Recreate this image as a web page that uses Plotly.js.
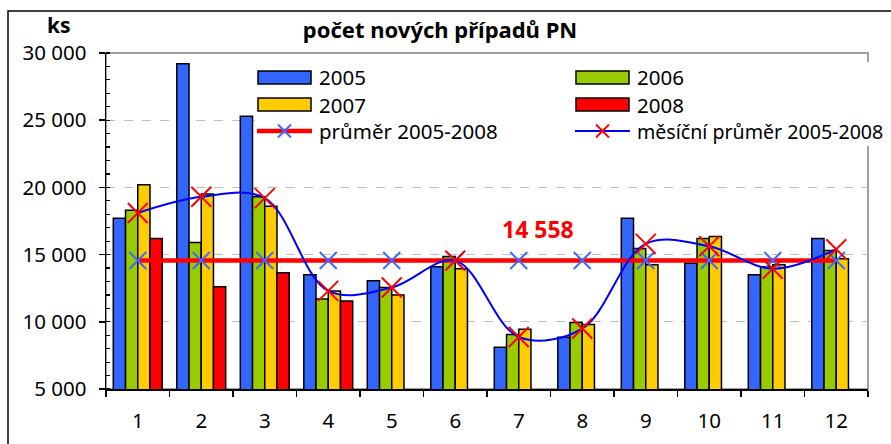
<!DOCTYPE html>
<html>
<head>
<meta charset="utf-8">
<script src="https://cdn.plot.ly/plotly-3.0.1.min.js"></script>
<style>
  html, body { margin: 0; padding: 0; background: #fff; }
  #chart { width: 891px; height: 444px; }
</style>
</head>
<body>
<div id="chart"></div>
<script>
// ---- data ----
const months = ['1', '2', '3', '4', '5', '6', '7', '8', '9', '10', '11', '12'];
const seriesNames = ['2005', '2006', '2007', '2008'];
const v2005 = [17700, 29200, 25300, 13500, 13050, 14100, 8100, 8850, 17700, 14350, 13500, 16200];
const v2006 = [18300, 15900, 19300, 11700, 12550, 14850, 9050, 9950, 15450, 16200, 14100, 15300];
const v2007 = [20200, 19500, 18600, 12300, 12000, 13950, 9450, 9800, 14250, 16350, 14250, 14700];
const v2008 = [16200, 12600, 13650, 11550, null, null, null, null, null, null, null, null];
const overallAvg = [14558, 14558, 14558, 14558, 14558, 14558, 14558, 14558, 14558, 14558, 14558, 14558];
const monthlyAvg = [18100, 19300, 19200, 12300, 12550, 14550, 8870, 9500, 15800, 15620, 13950, 15400];
const avgLabel = '14 558';
const avgName = 'průměr 2005-2008';
const monthlyName = 'měsíční průměr 2005-2008';
const chartTitle = 'počet nových případů PN';
const unitLabel = 'ks';

// ---- styling ----
const FONT = 'Noto Sans, DejaVu Sans, sans-serif';
const colors = ['#3366FF', '#99CC00', '#FFCC00', '#FF0000'];
const values = [v2005, v2006, v2007, v2008];

const traces = values.map((v, i) => ({
  type: 'bar', name: seriesNames[i], x: months, y: v,
  marker: { color: colors[i], line: { color: '#000', width: 1.5 } },
  hoverinfo: 'skip'
}));
traces.push({
  type: 'scatter', mode: 'lines+markers', name: avgName, x: months, y: overallAvg,
  line: { color: '#FF0000', width: 4.5 },
  marker: { symbol: 'x-thin', size: 17, line: { color: '#3D6BFF', width: 2 } },
  hoverinfo: 'skip'
});
traces.push({
  type: 'scatter', mode: 'lines+markers', name: monthlyName, x: months, y: monthlyAvg,
  line: { color: '#0000FF', width: 2, shape: 'spline', smoothing: 1 },
  marker: { symbol: 'x-thin', size: 20, line: { color: '#FF0000', width: 2 } },
  hoverinfo: 'skip'
});

// pixel -> paper helpers for decorations (legend, frame)
const ML = 106, MT = 53, PW = 762, PH = 336;
const px = x => (x - ML) / PW;
const py = y => (MT + PH - y) / PH;

const shapes = [
  // outer chart frame
  { type: 'rect', xref: 'paper', yref: 'paper', x0: px(8), x1: px(905), y0: py(470), y1: py(11),
    line: { color: '#000', width: 1.5 }, fillcolor: 'rgba(0,0,0,0)', layer: 'below' },
  // plot-area border
  { type: 'rect', xref: 'paper', yref: 'paper', x0: 0, x1: 1, y0: 0, y1: 1,
    line: { color: '#808080', width: 1.5 }, fillcolor: 'rgba(0,0,0,0)', layer: 'below' },
  // legend background
  { type: 'rect', xref: 'paper', yref: 'paper', x0: px(255), x1: px(884), y0: py(146), y1: py(62),
    line: { width: 0 }, fillcolor: '#FFFFFF', layer: 'above' }
];
const annotations = [];

function legendBar(x, y, color, label) {
  shapes.push({ type: 'rect', xref: 'paper', yref: 'paper', x0: px(x), x1: px(x + 53), y0: py(y + 6.5), y1: py(y - 6.5),
    line: { color: '#000', width: 1.5 }, fillcolor: color, layer: 'above' });
  annotations.push({ xref: 'paper', yref: 'paper', x: px(x + 59), y: py(y), xanchor: 'left', yanchor: 'middle',
    text: label, showarrow: false, font: { family: FONT, size: 20.5, color: '#000' } });
}
function legendLine(x, y, lineColor, lineW, markColor, markHalf, label, fs) {
  shapes.push({ type: 'line', xref: 'paper', yref: 'paper', x0: px(x), x1: px(x + 55), y0: py(y), y1: py(y),
    line: { color: lineColor, width: lineW }, layer: 'above' });
  const cx = x + 27.5;
  shapes.push({ type: 'line', xref: 'paper', yref: 'paper', x0: px(cx - markHalf), x1: px(cx + markHalf), y0: py(y - markHalf), y1: py(y + markHalf),
    line: { color: markColor, width: 2 }, layer: 'above' });
  shapes.push({ type: 'line', xref: 'paper', yref: 'paper', x0: px(cx - markHalf), x1: px(cx + markHalf), y0: py(y + markHalf), y1: py(y - markHalf),
    line: { color: markColor, width: 2 }, layer: 'above' });
  annotations.push({ xref: 'paper', yref: 'paper', x: px(x + 60), y: py(y), xanchor: 'left', yanchor: 'middle',
    text: label, showarrow: false, font: { family: FONT, size: fs, color: '#000' } });
}
legendBar(258, 77.5, colors[0], seriesNames[0]);
legendBar(576, 77.5, colors[1], seriesNames[1]);
legendBar(258, 104.5, colors[2], seriesNames[2]);
legendBar(576, 104.5, colors[3], seriesNames[3]);
legendLine(257, 131, '#FF0000', 4.5, '#3D6BFF', 6.5, avgName, 20.5);
legendLine(575, 131, '#0000FF', 2, '#FF0000', 6.5, monthlyName, 19.6);

// unit label and average value label
annotations.push({ xref: 'paper', yref: 'paper', x: px(59), y: py(25.5), xanchor: 'center', yanchor: 'middle',
  text: '<b>' + unitLabel + '</b>', showarrow: false, font: { family: FONT, size: 21, color: '#000' } });
annotations.push({ xref: 'x', yref: 'y', x: 6.3, y: overallAvg[0], yshift: 32, xanchor: 'center', yanchor: 'middle',
  text: '<b>' + avgLabel + '</b>', showarrow: false, font: { family: FONT, size: 23, color: '#FF0000' } });

const layout = {
  width: 891, height: 444,
  margin: { l: ML, r: 891 - ML - PW, t: MT, b: 444 - MT - PH, pad: 0 },
  paper_bgcolor: '#FFFFFF', plot_bgcolor: '#FFFFFF',
  separators: ', ',
  barmode: 'group', bargap: 0.23, bargroupgap: 0,
  showlegend: false,
  font: { family: FONT, size: 20.5, color: '#000' },
  title: { text: '<b>' + chartTitle + '</b>', x: 440 / 891, xanchor: 'center', y: 1 - 30 / 444, yanchor: 'middle',
    xref: 'container', yref: 'container', font: { family: FONT, size: 22, color: '#000' } },
  xaxis: {
    type: 'category', categoryorder: 'array', categoryarray: months, range: [-0.5, 11.5],
    tickson: 'boundaries', ticks: 'outside', ticklen: 6, tickwidth: 1.5, tickcolor: '#000',
    showline: true, linecolor: '#000', linewidth: 1.5, showgrid: false, zeroline: false,
    tickfont: { family: FONT, size: 20.5, color: '#000' }, ticklabelstandoff: 13, fixedrange: true
  },
  yaxis: {
    range: [5000, 30000], tick0: 5000, dtick: 5000, tickformat: ',d',
    ticks: 'outside', ticklen: 6, tickwidth: 1.5, tickcolor: '#000',
    minor: { dtick: 1000, ticks: 'inside', ticklen: 4, tickwidth: 1.2, tickcolor: '#000', showgrid: false },
    showline: true, linecolor: '#000', linewidth: 1.5,
    showgrid: true, gridcolor: '#BFBFBF', griddash: 'dash', gridwidth: 1, zeroline: false,
    tickfont: { family: FONT, size: 20.5, color: '#000' }, ticklabelstandoff: 8, fixedrange: true
  },
  shapes: shapes,
  annotations: annotations
};

Plotly.newPlot('chart', traces, layout, { displayModeBar: false, staticPlot: true });
</script>
</body>
</html>
